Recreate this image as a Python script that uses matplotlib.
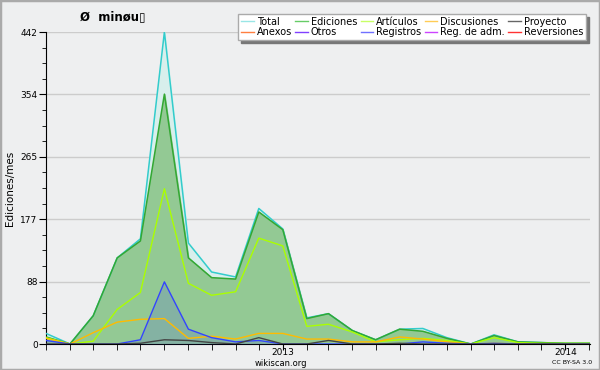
import matplotlib
matplotlib.use("Agg")
import matplotlib.pyplot as plt
import matplotlib.dates as mdates
import pandas as pd
from matplotlib.patches import Rectangle

months = pd.date_range("2012-03-01", "2014-02-01", freq="MS")
total = [15, 0, 40, 122, 149, 442, 143, 102, 95, 192, 163, 37, 43, 19, 6, 21, 22, 9, 0, 13, 3, 2, 1, 1]
ediciones = [10, 0, 40, 122, 146, 354, 122, 94, 92, 187, 162, 36, 43, 19, 6, 21, 18, 8, 0, 12, 3, 2, 1, 1]
articulos = [9, 0, 4, 49, 73, 220, 86, 69, 74, 150, 139, 25, 28, 17, 3, 6, 8, 5, 0, 9, 2, 1, 1, 1]
discusiones = [8, 0, 16, 31, 35, 36, 8, 11, 7, 15, 15, 7, 7, 3, 3, 10, 7, 3, 0, 1, 0, 0, 0, 0]
registros = [5, 0, 0, 0, 6, 88, 21, 9, 3, 5, 0, 0, 0, 0, 0, 0, 3, 1, 0, 1, 0, 0, 0, 0]
proyecto = [0, 0, 0, 0, 1, 6, 5, 2, 0, 9, 0, 0, 5, 0, 0, 1, 0, 0, 0, 0, 0, 0, 0, 0]
yticks = [0, 88, 177, 265, 354, 442]
legend_names = ["Total", "Anexos", "Ediciones", "Otros", "Artículos", "Registros",
                "Discusiones", "Reg. de adm.", "Proyecto", "Reversiones"]
legend_colors = ["#99e6e6", "#ff7f40", "#66cc66", "#8040ff", "#c8ff66", "#7070ff",
                 "#ffcc55", "#cc44ff", "#666666", "#ff3333"]

bg = "#eeeff0"
fig = plt.figure(figsize=(6, 3.7), dpi=100, facecolor=bg)
ax = fig.add_axes([46/600, 26/370, 544/600, 312/370])
ax.set_facecolor(bg)

x = mdates.date2num(months)
ax.fill_between(x, total, color="#d8efec", zorder=1)
ax.fill_between(x, ediciones, color="#93c994", zorder=2)
ax.fill_between(x, registros, color="#3333ff", alpha=0.15, lw=0, zorder=3)
ax.plot(x, total, color="#33cccc", lw=1.1, zorder=5)
ax.plot(x, ediciones, color="#33a833", lw=1.1, zorder=6)
ax.plot(x, articulos, color="#aaff00", lw=1.0, zorder=7)
ax.plot(x, discusiones, color="#ffbb00", lw=1.0, zorder=7)
ax.plot(x, registros, color="#3344ff", lw=1.0, zorder=8)
ax.plot(x, proyecto, color="#444444", lw=1.0, zorder=8)

ax.set_ylim(0, 442)
ax.set_xlim(x[0], x[-1] + 1)
ax.set_yticks(yticks)
ax.set_yticklabels([str(v) for v in yticks], fontsize=6.5)
ax.set_yticks([i * 442 / 20 for i in range(21)], minor=True)
ax.grid(axis="y", color="#cccccc", lw=1, zorder=0)
ax.set_axisbelow(True)

ax.xaxis.set_major_locator(mdates.YearLocator())
ax.xaxis.set_major_formatter(mdates.DateFormatter("%Y"))
ax.xaxis.set_minor_locator(mdates.MonthLocator())
ax.tick_params(axis="x", which="both", length=4, labelsize=6.5, pad=-1, color="black")
ax.tick_params(axis="y", which="major", length=5, pad=1, color="black")
ax.tick_params(axis="y", which="minor", length=3, color="black")
for s in ["top", "right"]:
    ax.spines[s].set_visible(False)
ax.spines["left"].set_color("black")
ax.spines["bottom"].set_color("black")

ax.set_ylabel("Ediciones/mes", fontsize=7.5, labelpad=4)

handles = [plt.Line2D([], [], color=c, lw=1) for c in legend_colors]
fig.legend(handles, legend_names, ncol=5, loc="upper right",
           bbox_to_anchor=(591/600, 1 - 9/370), fontsize=7, frameon=True,
           fancybox=False, shadow={"color": "#777777", "alpha": 1}, edgecolor="#aaaaaa",
           framealpha=1, handlelength=1.3, handletextpad=0.3, columnspacing=0.35,
           labelspacing=0.05, borderpad=0.3)

fig.text(113/600, 1 - 17/370, "Ø  minøu\u25af", fontsize=8.5, fontweight="bold",
         ha="center", va="center")
fig.text(281/600, 1 - 363/370, "wikiscan.org", fontsize=6, ha="center", va="center")
fig.text(572/600, 1 - 363/370, "CC BY-SA 3.0", fontsize=4.5, ha="center", va="center")

fig.patches.append(Rectangle((0, 0), 1, 1, transform=fig.transFigure, fill=False,
                             edgecolor="#aaaaaa", lw=2.5))
fig.savefig("out.png", dpi=100, facecolor=bg)
